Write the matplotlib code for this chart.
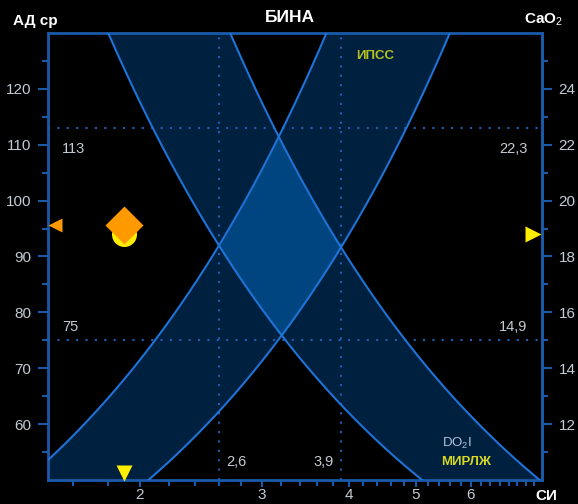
import numpy as np
import matplotlib.pyplot as plt
from matplotlib.ticker import FixedLocator, NullFormatter

plt.rcParams['font.family'] = ['Liberation Sans', 'DejaVu Sans']
plt.rcParams['mathtext.fontset'] = 'custom'
plt.rcParams['mathtext.rm'] = 'Liberation Sans'

# axes ranges and ticks
si_lim = (1.474, 7.6)
si_ticks = [2, 3, 4, 5, 6]
ad_lim = (50, 130)
ad_ticks = [60, 70, 80, 90, 100, 110, 120]
cao2_ticks = [12, 14, 16, 18, 20, 22, 24]

# ИПСС band: АД = slope * СИ + offset
ipss_slope = [34.1, 22.6]
ipss_offset = [3.3, 3.5]
# МИРЛЖ / DO2I band: АД = k / СИ + offset
mirlzh_k = [222.5, 336.3]
mirlzh_offset = [6.4, 5.4]

# norm limits
si_norm = [2.6, 3.9]
si_norm_labels = ['2,6', '3,9']
ad_norm = [113, 75]
ad_norm_labels = ['113', '75']
cao2_norm_labels = ['22,3', '14,9']

# patient values
si_pt = 1.9
ad_pt = 95.7
cao2_pt = 18.8

BAND = '#00203f'
OVERLAP = '#00457f'
EDGE = '#1f72d6'
SPINE = '#1a5aa8'
DOT = '#1f5fb0'
TXT = '#c3cbd3'

fig = plt.figure(figsize=(5.78, 5.04), dpi=100, facecolor='black')
ax = fig.add_axes([48 / 578, 24 / 504, 494 / 578, 447 / 504])
ax.set_facecolor('black')
ax.set_xscale('log')
ax.set_xlim(*si_lim)
ax.set_ylim(*ad_lim)

x = np.exp(np.linspace(np.log(si_lim[0]), np.log(si_lim[1]), 600))
ip_hi = ipss_slope[0] * x + ipss_offset[0]
ip_lo = ipss_slope[1] * x + ipss_offset[1]
mi_lo = mirlzh_k[0] / x + mirlzh_offset[0]
mi_hi = mirlzh_k[1] / x + mirlzh_offset[1]

ax.fill_between(x, ip_lo, ip_hi, color=BAND, lw=0, zorder=1)
ax.fill_between(x, mi_lo, mi_hi, color=BAND, lw=0, zorder=1)
lo = np.maximum(ip_lo, mi_lo)
hi = np.minimum(ip_hi, mi_hi)
ax.fill_between(x, lo, hi, where=hi > lo, color=OVERLAP, lw=0, zorder=1.5)
for y in (ip_hi, ip_lo, mi_lo, mi_hi):
    ax.plot(x, y, color=EDGE, lw=1.5, zorder=3)

# norm lines
for v in si_norm:
    ax.axvline(v, color=DOT, lw=1.5, ls=(0, (1, 3.5)), zorder=2)
for v in ad_norm:
    ax.axhline(v, color=DOT, lw=1.5, ls=(0, (1, 3.5)), zorder=2)

ty = ax.get_yaxis_transform()
tx = ax.get_xaxis_transform()
ax.text(0.028, 109.3, ad_norm_labels[0], transform=ty, color=TXT, fontsize=10.5, va='center')
ax.text(0.028, 77.3, ad_norm_labels[1], transform=ty, color=TXT, fontsize=10.5, va='center')
ax.text(0.970, 109.3, cao2_norm_labels[0], transform=ty, color=TXT, fontsize=10.5, va='center', ha='right')
ax.text(0.970, 77.3, cao2_norm_labels[1], transform=ty, color=TXT, fontsize=10.5, va='center', ha='right')
ax.text(2.66, 0.040, si_norm_labels[0], transform=tx, color=TXT, fontsize=10.5, va='center')
ax.text(3.80, 0.040, si_norm_labels[1], transform=tx, color=TXT, fontsize=10.5, va='center', ha='right')

ax.text(4.37, 125.9, 'ИПСС', color='#b8c020', fontsize=9.5, fontweight='bold', ha='center', va='center')
ax.text(5.73, 56.6, 'DO$_2$I', color='#b4c4dc', fontsize=9.5, ha='center', va='center')
ax.text(5.91, 53.2, 'МИРЛЖ', color='#d8d820', fontsize=9.5, fontweight='bold', ha='center', va='center')

# patient point
ax.plot(si_pt, cao2_pt * 5, 'o', color='#ffee00', ms=18, mec='none', zorder=5)
ax.plot(si_pt, ad_pt, 'D', color='#ff9900', ms=19, mec='none', zorder=6)
ax.plot(0.014, ad_pt, '<', color='#ff9900', ms=10, mec='none', transform=ty, clip_on=False, zorder=6)
ax.plot(0.982, cao2_pt * 5, '>', color='#ffee00', ms=11, mec='none', transform=ty, clip_on=False, zorder=6)
ax.plot(si_pt, 0.016, 'v', color='#ffee00', ms=11, mec='none', transform=tx, clip_on=False, zorder=6)

# axes styling
for s in ax.spines.values():
    s.set_color(SPINE)
    s.set_linewidth(2)
ax.xaxis.set_major_locator(FixedLocator(si_ticks))
ax.xaxis.set_major_formatter(plt.FixedFormatter([str(t) for t in si_ticks]))
ax.xaxis.set_minor_locator(FixedLocator([v for v in np.arange(1.6, 7.5, 0.2)
                                         if min(abs(v - t) for t in si_ticks) > 0.05]))
ax.xaxis.set_minor_formatter(NullFormatter())
ax.yaxis.set_major_locator(FixedLocator(ad_ticks))
ax.yaxis.set_minor_locator(FixedLocator(np.arange(55, 130, 10)))
ax.tick_params(which='both', colors=SPINE, labelcolor=TXT, labelsize=11, width=1.5)
ax.tick_params(which='major', length=7, pad=5)
ax.tick_params(which='minor', length=4)
ax.tick_params(axis='x', which='major', length=5, pad=0.5)

sec = ax.secondary_yaxis('right', functions=(lambda v: v / 5, lambda v: v * 5))
sec.spines['right'].set_color(SPINE)
sec.spines['right'].set_linewidth(2)
sec.yaxis.set_major_locator(FixedLocator(cao2_ticks))
sec.yaxis.set_minor_locator(FixedLocator(np.arange(11, 26, 2)))
sec.yaxis.set_minor_formatter(NullFormatter())
sec.tick_params(which='both', colors=SPINE, labelcolor=TXT, labelsize=11, width=1.5)
sec.tick_params(which='major', length=7, pad=5)
sec.tick_params(which='minor', length=4)

fig.text(290 / 578, 1 - 18 / 504, 'БИНА', color='white', fontsize=12.5, fontweight='bold', ha='center', va='center')
fig.text(13 / 578, 1 - 21 / 504, 'АД ср', color='white', fontsize=11, fontweight='bold', va='center')
fig.text(563 / 578, 1 - 20 / 504, 'CaO$_2$', color='white', fontsize=11, fontweight='bold', va='center', ha='right')
fig.text(557 / 578, 1 - 496 / 504, 'СИ', color='white', fontsize=11, fontweight='bold', va='center', ha='right')

fig.savefig('out.png', dpi=100, facecolor='black')
